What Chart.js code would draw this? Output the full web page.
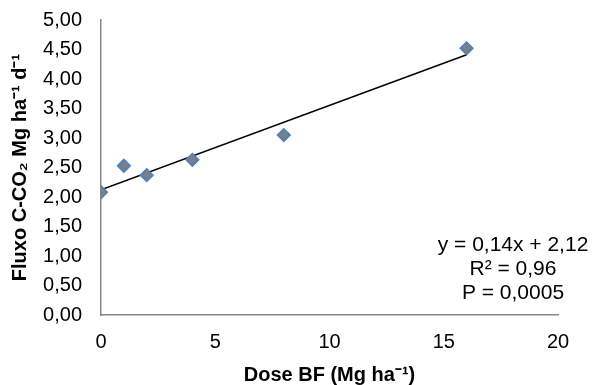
<!DOCTYPE html>
<html>
<head>
<meta charset="utf-8">
<script src="https://cdn.jsdelivr.net/npm/chart.js@4"></script>
<style>
  body { margin: 0; background: #fff; }
  #wrap { width: 592px; height: 385px; }
</style>
</head>
<body>
<div id="wrap"><canvas id="fluxChart"></canvas></div>
<script>
// Observed values
const doses = [0, 1, 2, 4, 8, 16];
const fluxo = [2.08, 2.53, 2.37, 2.63, 3.05, 4.52];
// Linear fit, end points
const trendX = [0, 16];
const trendY = [2.12, 4.41];
const eqLines = ['y = 0,14x + 2,12', 'R² = 0,96', 'P = 0,0005'];

const FONT = '"Liberation Sans", Arial, sans-serif';
const fmt = v => v.toFixed(2).replace('.', ',');

// Equation text box in the lower right
const eqPlugin = {
    id: 'eqText',
    afterDraw(chart) {
        const ctx = chart.ctx;
        ctx.save();
        ctx.font = '21px ' + FONT;
        ctx.fillStyle = '#000';
        ctx.textAlign = 'center';
        ctx.textBaseline = 'middle';
        const cx = 513;
        eqLines.forEach((t, i) => ctx.fillText(t, cx, 245 + i * 24));
        ctx.restore();
    }
};

const ctx = document.getElementById('fluxChart').getContext('2d');
const fluxChart = new Chart(ctx, {
    type: 'scatter',
    data: {
        datasets: [{
            label: 'Fluxo',
            data: doses.map((d, i) => ({ x: d, y: fluxo[i] })),
            pointStyle: 'rectRot',
            pointRadius: 6,
            pointBackgroundColor: '#7f7f7f',
            pointBorderColor: '#4f81bd',
            pointBorderWidth: 2,
            order: 1
        }, {
            label: 'Linear',
            type: 'line',
            data: trendX.map((d, i) => ({ x: d, y: trendY[i] })),
            borderColor: '#000',
            borderWidth: 1.5,
            pointRadius: 0,
            fill: false,
            order: 2
        }]
    },
    options: {
        responsive: true,
        maintainAspectRatio: false,
        animation: false,
        layout: { padding: { top: 20, right: 34, bottom: 0, left: 4 } },
        plugins: {
            legend: { display: false },
            tooltip: { enabled: false }
        },
        scales: {
            x: {
                type: 'linear',
                min: 0,
                max: 20,
                ticks: {
                    stepSize: 5,
                    padding: 15,
                    color: '#000',
                    font: { family: FONT, size: 20 }
                },
                grid: { display: false, drawTicks: false },
                border: { display: true, color: '#868686', width: 1.5 },
                title: {
                    display: true,
                    text: 'Dose BF (Mg ha⁻¹)',
                    color: '#000',
                    padding: { top: 4, bottom: -2 },
                    font: { family: FONT, size: 20, weight: 'bold' }
                },
                afterFit(scale) {
                    scale.height = 70;
                    scale.paddingLeft = 0;
                    scale.paddingRight = 0;
                }
            },
            y: {
                min: 0,
                max: 5,
                ticks: {
                    stepSize: 0.5,
                    padding: 19,
                    color: '#000',
                    callback: v => fmt(v),
                    font: { family: FONT, size: 20 }
                },
                grid: { display: false, drawTicks: false },
                border: { display: true, color: '#868686', width: 1.5 },
                title: {
                    display: true,
                    text: 'Fluxo C-CO₂ Mg ha⁻¹ d⁻¹',
                    color: '#000',
                    padding: { top: 4, bottom: 0 },
                    font: { family: FONT, size: 20, weight: 'bold' }
                },
                afterFit(scale) {
                    scale.width = 97;
                    scale.paddingTop = 0;
                    scale.paddingBottom = 0;
                }
            }
        }
    },
    plugins: [eqPlugin]
});
</script>
</body>
</html>
